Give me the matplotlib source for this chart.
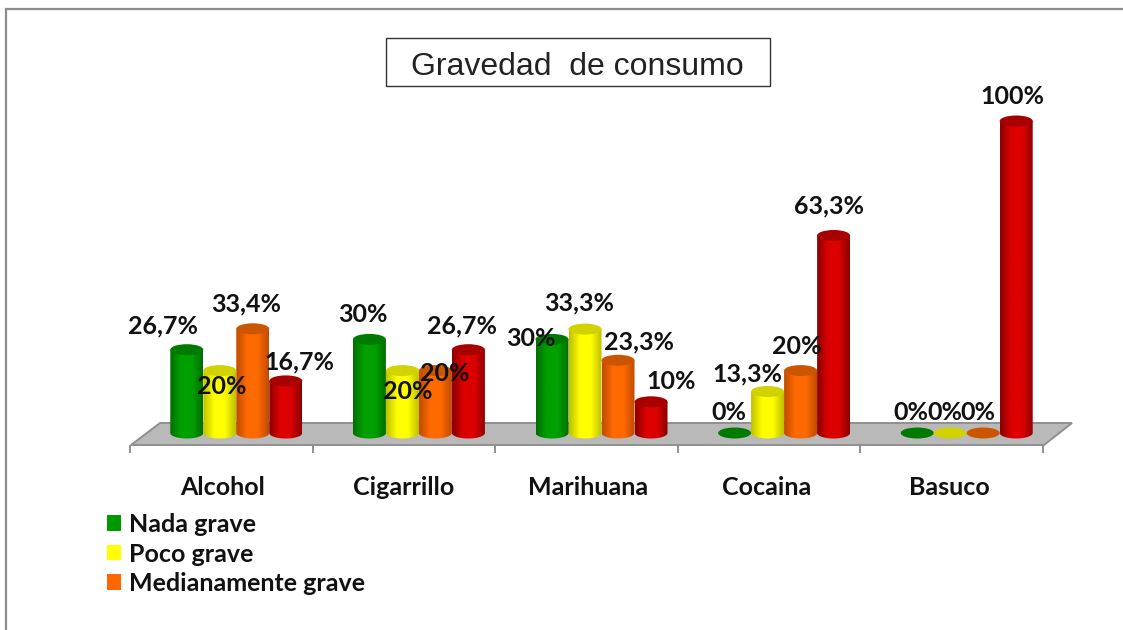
import numpy as np
import matplotlib
matplotlib.use("Agg")
import matplotlib.pyplot as plt
from matplotlib.patches import Ellipse, PathPatch, Polygon, Rectangle, Patch
from matplotlib.path import Path
from matplotlib.colors import LinearSegmentedColormap

title = "Gravedad  de consumo"
categories = ["Alcohol", "Cigarrillo", "Marihuana", "Cocaina", "Basuco"]
series_names = ["Nada grave", "Poco grave", "Medianamente grave", "Grave"]
nada = [26.7, 30, 30, 0, 0]
poco = [20, 20, 33.3, 13.3, 0]
mediana = [33.4, 20, 23.3, 20, 0]
grave = [16.7, 26.7, 10, 63.3, 100]
labels_nada = ["26,7%", "30%", "30%", "0%", "0%"]
labels_poco = ["20%", "20%", "33,3%", "13,3%", "0%"]
labels_mediana = ["33,4%", "20%", "23,3%", "20%", "0%"]
labels_grave = ["16,7%", "26,7%", "10%", "63,3%", "100%"]

W, H = 1123, 630
DPI = 100
fig = plt.figure(figsize=(W / DPI, H / DPI), dpi=DPI, facecolor="white")

# ---- backdrop in pixel space: frame, title box, floor
bg = fig.add_axes([0, 0, 1, 1], zorder=0)
bg.set_xlim(0, W); bg.set_ylim(H, 0); bg.axis("off")
bg.plot([6, 6, W], [H, 9, 9], color="#8c8c8c", lw=1.6, solid_joinstyle="miter")
bg.add_patch(Rectangle((386, 38), 384, 48, fc="white", ec="#333333", lw=1))
bg.text(577, 67, title, ha="center", va="center", fontsize=23,
        family="Liberation Sans", color="#222222")
bg.add_patch(Polygon([(131, 445), (1044, 445), (1072, 423), (160, 423)],
                     closed=True, fc="#b9b9b9", ec="#8f8f8f", lw=1.4))

# ---- chart axes
ax = fig.add_axes([130 / W, 1 - 433 / H, (1044 - 131) / W, 312 / H], zorder=1)
ax.patch.set_alpha(0)

bar_w = 33 / 182.6
depth_shift = 15 / 182.6
cap_h = 11 / 3.12

body = [("#006f00", "#00a000"), ("#c0c000", "#ffff00"),
        ("#c04c00", "#ff6a00"), ("#8a0000", "#dc0000")]
caps = ["#007a00", "#d2d200", "#cc5500", "#a80000"]
all_series = [nada, poco, mediana, grave]
all_labels = [labels_nada, labels_poco, labels_mediana, labels_grave]

# label placement relative to bar top, pixels (dx, dy up)
offsets = [
    [(-24, 24), (2, -16), (-7, 25), (14, 19)],
    [(-7, 25), (5, -21), (9, -3), (-6, 24)],
    [(-21, 1), (-6, 26), (21, 18), (20, 20)],
    [(-6, 21), (-20, 18), (-4, 24), (-5, 30)],
    [(-6, 21), (-5, 21), (-5, 21), (-4, 25)],
]

for j, (vals, labs) in enumerate(zip(all_series, all_labels)):
    dark, light = body[j]
    cmap = LinearSegmentedColormap.from_list("c", [dark, light, light, dark])
    grad = np.linspace(0, 1, 64).reshape(1, -1)
    for i, v in enumerate(vals):
        cx = i + 0.5 + depth_shift + (j - 1.5) * bar_w
        z = 2 + j * 0.1
        if v > 0:
            t = np.linspace(np.pi, 2 * np.pi, 40)
            xs = np.r_[cx - bar_w / 2, cx + bar_w / 2 * np.cos(t), cx + bar_w / 2]
            ys = np.r_[v, cap_h / 2 * np.sin(t), v]
            im = ax.imshow(grad, cmap=cmap, aspect="auto", zorder=z,
                           extent=[cx - bar_w / 2, cx + bar_w / 2, -cap_h, v],
                           interpolation="bilinear")
            clip = PathPatch(Path(np.c_[xs, ys]), transform=ax.transData, fc="none", ec="none")
            ax.add_patch(clip)
            im.set_clip_path(clip)
            im.set_clip_box(fig.bbox)
        ax.add_patch(Ellipse((cx, v), bar_w, cap_h, fc=caps[j], ec="none",
                             zorder=z + 0.01, clip_on=False))
        ax.annotate(labs[i], (cx, v), xytext=offsets[i][j], textcoords="offset pixels",
                    ha="center", va="center", fontsize=18, family="Lato",
                    fontweight="bold", color="#111111", zorder=5, annotation_clip=False)

ax.set_xlim(0, len(categories))
ax.set_ylim(0, 100)
ax.set_yticks([])
for s in ["top", "left", "right", "bottom"]:
    ax.spines[s].set_visible(False)
ax.spines["bottom"].set_position(("outward", 12 * 72 / DPI))
ax.set_xticks(range(len(categories) + 1))
ax.set_xticklabels([])
ax.set_xticks([0.505, 1.5, 2.51, 3.485, 4.485], minor=True)
ax.set_xticklabels(categories, minor=True, fontsize=18, family="Lato", fontweight="bold",
                   color="#111111")
ax.tick_params(axis="x", which="major", length=8 * 72 / DPI, color="#8f8f8f", width=1.4)
ax.tick_params(axis="x", which="minor", length=0, pad=22.5)

handles = [Patch(fc="#009900", ec="none"), Patch(fc="#ffff00", ec="none"),
           Patch(fc="#ff6600", ec="none")]
ax.legend(handles, series_names[:3], loc="upper left",
          bbox_to_anchor=(107 / W, 1 - 513 / H), bbox_transform=fig.transFigure,
          frameon=False, handlelength=0.57, handleheight=0.57, handletextpad=0.3,
          labelspacing=0.26, borderpad=0, borderaxespad=0,
          prop={"family": "Lato", "weight": "bold", "size": 18}, labelcolor="#111111")

fig.savefig("out.png", dpi=DPI, facecolor="white")
